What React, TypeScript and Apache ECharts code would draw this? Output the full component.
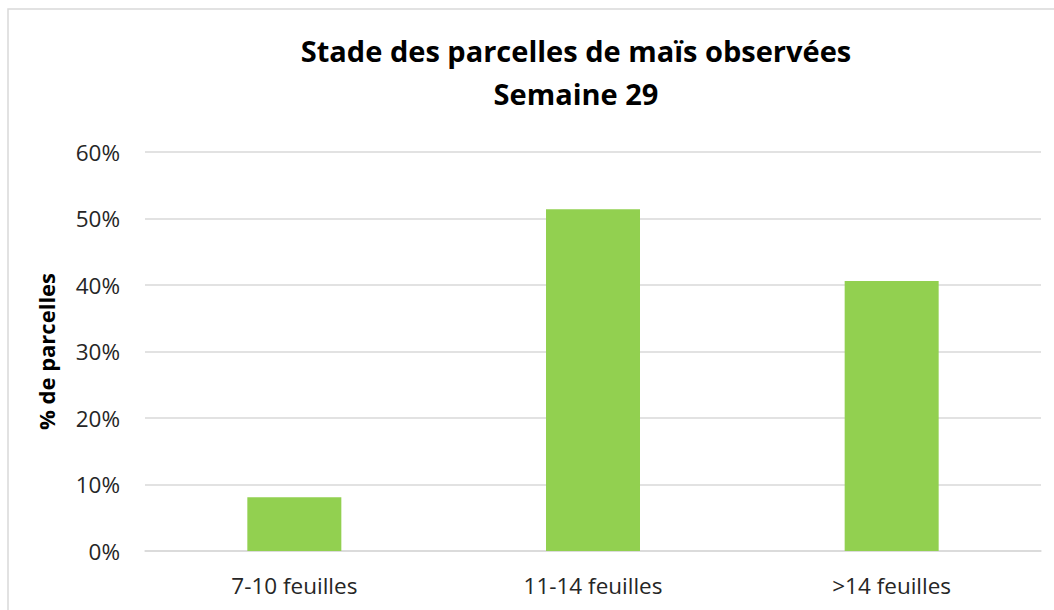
import React, { useEffect, useRef } from "react";
import * as echarts from "echarts";

const categories = ["7-10 feuilles", "11-14 feuilles", ">14 feuilles"];
const values = [8.1, 51.4, 40.6];
const titleLines = ["Stade des parcelles de maïs observées", "Semaine 29"];
const yAxisName = "% de parcelles";

const FONT = "'Open Sans', 'Noto Sans', sans-serif";

export default function App() {
  const ref = useRef<HTMLDivElement>(null);
  useEffect(() => {
    if (!ref.current) return;
    const chart = echarts.init(ref.current, undefined, { renderer: "svg" });
    chart.setOption({
      animation: false,
      backgroundColor: "#ffffff",
      title: {
        text: titleLines.join("\n"),
        left: 571,
        top: 24,
        textAlign: "center",
        textStyle: {
          fontFamily: FONT,
          fontSize: 29,
          fontWeight: "bold",
          color: "#000000",
          lineHeight: 43,
        },
      },
      graphic: [
        {
          type: "rect",
          shape: { x: 8, y: 9, width: 1100, height: 700 },
          style: { fill: "none", stroke: "#d9d9d9", lineWidth: 1.5 },
          silent: true,
        },
      ],
      grid: { left: 145, right: 13, top: 152, bottom: 59 },
      xAxis: {
        type: "category",
        data: categories,
        axisLine: { show: true, lineStyle: { color: "#d9d9d9", width: 1.5 } },
        axisTick: { show: false },
        axisLabel: {
          fontFamily: FONT,
          fontSize: 22.5,
          color: "#262626",
          margin: 23,
        },
      },
      yAxis: {
        type: "value",
        min: 0,
        max: 60,
        interval: 10,
        name: yAxisName,
        nameLocation: "middle",
        nameGap: 88,
        nameRotate: 90,
        nameTextStyle: {
          fontFamily: FONT,
          fontSize: 22,
          fontWeight: "bold",
          color: "#000000",
        },
        axisLine: { show: false },
        axisTick: { show: false },
        splitLine: { lineStyle: { color: "#d9d9d9", width: 1.5 } },
        axisLabel: {
          formatter: "{value}%",
          fontFamily: FONT,
          fontSize: 22.5,
          color: "#262626",
          margin: 25,
        },
      },
      series: [
        {
          type: "bar",
          data: values,
          barWidth: 94,
          itemStyle: { color: "#92d050" },
        },
      ],
    });
    return () => chart.dispose();
  }, []);
  return (
    <div
      ref={ref}
      style={{ position: "fixed", left: 0, top: 0, width: 1054, height: 610 }}
    />
  );
}
